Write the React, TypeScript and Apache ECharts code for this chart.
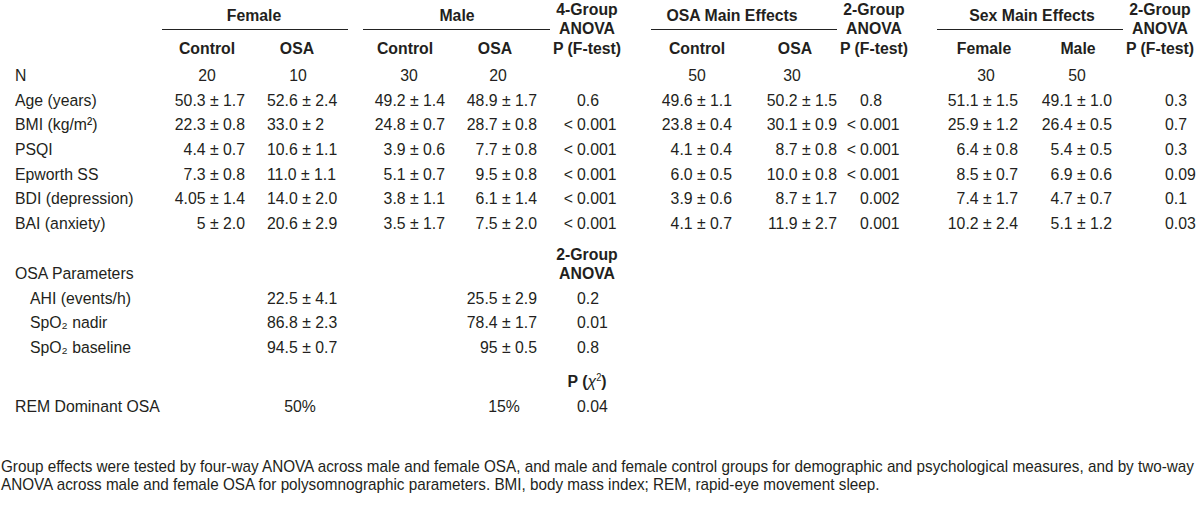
import { useEffect, useRef } from 'react';
import * as echarts from 'echarts';

// ---------- data ----------
const rowLabels = ['N', 'Age (years)', 'BMI (kg/m²)', 'PSQI', 'Epworth SS', 'BDI (depression)', 'BAI (anxiety)'];
const femaleControl = ['20', '50.3 ± 1.7', '22.3 ± 0.8', '4.4 ± 0.7', '7.3 ± 0.8', '4.05 ± 1.4', '5 ± 2.0'];
const femaleOSA = ['10', '52.6 ± 2.4', '33.0 ± 2', '10.6 ± 1.1', '11.0 ± 1.1', '14.0 ± 2.0', '20.6 ± 2.9'];
const maleControl = ['30', '49.2 ± 1.4', '24.8 ± 0.7', '3.9 ± 0.6', '5.1 ± 0.7', '3.8 ± 1.1', '3.5 ± 1.7'];
const maleOSA = ['20', '48.9 ± 1.7', '28.7 ± 0.8', '7.7 ± 0.8', '9.5 ± 0.8', '6.1 ± 1.4', '7.5 ± 2.0'];
const p4Group = ['', '0.6', '< 0.001', '< 0.001', '< 0.001', '< 0.001', '< 0.001'];
const osaMainControl = ['50', '49.6 ± 1.1', '23.8 ± 0.4', '4.1 ± 0.4', '6.0 ± 0.5', '3.9 ± 0.6', '4.1 ± 0.7'];
const osaMainOSA = ['30', '50.2 ± 1.5', '30.1 ± 0.9', '8.7 ± 0.8', '10.0 ± 0.8', '8.7 ± 1.7', '11.9 ± 2.7'];
const pOsaMain = ['', '0.8', '< 0.001', '< 0.001', '< 0.001', '0.002', '0.001'];
const sexFemale = ['30', '51.1 ± 1.5', '25.9 ± 1.2', '6.4 ± 0.8', '8.5 ± 0.7', '7.4 ± 1.7', '10.2 ± 2.4'];
const sexMale = ['50', '49.1 ± 1.0', '26.4 ± 0.5', '5.4 ± 0.5', '6.9 ± 0.6', '4.7 ± 0.7', '5.1 ± 1.2'];
const pSexMain = ['', '0.3', '0.7', '0.3', '0.09', '0.1', '0.03'];

const osaParamLabels = ['AHI (events/h)', 'SpO₂ nadir', 'SpO₂ baseline'];
const femaleOSAParams = ['22.5 ± 4.1', '86.8 ± 2.3', '94.5 ± 0.7'];
const maleOSAParams = ['25.5 ± 2.9', '78.4 ± 1.7', '95 ± 0.5'];
const pOsaParams = ['0.2', '0.01', '0.8'];

const remLabel = 'REM Dominant OSA';
const remFemale = '50%';
const remMale = '15%';
const pRem = '0.04';

const footnote = [
  'Group effects were tested by four-way ANOVA across male and female OSA, and male and female control groups for demographic and psychological measures, and by two-way',
  'ANOVA across male and female OSA for polysomnographic parameters. BMI, body mass index; REM, rapid-eye movement sleep.',
];

const FONT = "'Liberation Sans', Arial, sans-serif";
const COLOR = '#231f20';

export default function App() {
  const ref = useRef<HTMLDivElement>(null);
  useEffect(() => {
    const chart = echarts.init(ref.current!, null, { renderer: 'svg' });
    const els: any[] = [];
    const SIZE = 17;
    const SX = 0.93;
    const txt = (text: string, x: number, y: number, align = 'left', bold = false, size = SIZE, sx = SX) => {
      if (!text) return;
      els.push({
        type: 'text',
        x,
        y,
        scaleX: sx,
        silent: true,
        style: {
          text,
          fill: COLOR,
          font: `${bold ? 'bold ' : ''}${size}px ${FONT}`,
          align,
          verticalAlign: 'middle',
          textAlign: align,
          textVerticalAlign: 'middle',
        },
      });
    };
    const pval = (text: string, x: number, y: number) => {
      if (!text) return;
      if (text.startsWith('< ')) {
        txt('<', x - 4, y, 'right');
        txt(text.slice(2), x, y, 'left');
      } else txt(text, x, y, 'left');
    };
    const hline = (x1: number, x2: number, y: number) =>
      els.push({ type: 'line', silent: true, shape: { x1, y1: y, x2, y2: y }, style: { stroke: '#222', lineWidth: 1.2 } });

    // headers
    const yTop = 9, yMid = 28, yBot = 48, yGroup = 15, yLine = 29.5;
    txt('Female', 254, yGroup, 'center', true);
    hline(162, 348, yLine);
    txt('Male', 457, yGroup, 'center', true);
    hline(363, 550, yLine);
    const stack = (x: number, lines: string[]) => {
      txt(lines[0], x, yTop, 'center', true);
      txt(lines[1], x, yMid, 'center', true);
      if (lines[2]) txt(lines[2], x, yBot, 'center', true);
    };
    stack(587, ['4-Group', 'ANOVA', 'P (F-test)']);
    txt('OSA Main Effects', 732, yGroup, 'center', true);
    hline(651, 837, yLine);
    stack(874, ['2-Group', 'ANOVA', 'P (F-test)']);
    txt('Sex Main Effects', 1032, yGroup, 'center', true);
    hline(937, 1123, yLine);
    stack(1160, ['2-Group', 'ANOVA', 'P (F-test)']);

    const subs: [string, number][] = [
      ['Control', 207], ['OSA', 297], ['Control', 405], ['OSA', 495],
      ['Control', 697], ['OSA', 795], ['Female', 984], ['Male', 1078],
    ];
    subs.forEach(([t, x]) => txt(t, x, yBot, 'center', true));

    // body rows
    const y0 = 75, dy = 24.6;
    rowLabels.forEach((lab, i) => {
      const y = y0 + i * dy;
      txt(lab, 15, y);
      if (i === 0) {
        txt(femaleControl[i], 207, y, 'center');
        txt(femaleOSA[i], 298, y, 'center');
        txt(maleControl[i], 409, y, 'center');
        txt(maleOSA[i], 498, y, 'center');
        txt(osaMainControl[i], 697, y, 'center');
        txt(osaMainOSA[i], 792, y, 'center');
        txt(sexFemale[i], 986, y, 'center');
        txt(sexMale[i], 1077, y, 'center');
      } else {
        txt(femaleControl[i], 245, y, 'right');
        txt(femaleOSA[i], 267, y, 'left');
        txt(maleControl[i], 445, y, 'right');
        txt(maleOSA[i], 537, y, 'right');
        txt(osaMainControl[i], 732, y, 'right');
        txt(osaMainOSA[i], 837, y, 'right');
        txt(sexFemale[i], 1018, y, 'right');
        txt(sexMale[i], 1112, y, 'right');
      }
      pval(p4Group[i], 577, y);
      pval(pOsaMain[i], 860, y);
      pval(pSexMain[i], 1165, y);
    });

    // OSA parameters
    txt('2-Group', 587, 253.5, 'center', true);
    txt('ANOVA', 587, 272.5, 'center', true);
    txt('OSA Parameters', 15, 273);
    osaParamLabels.forEach((lab, i) => {
      const y = 297.5 + i * 24.5;
      txt(lab, 30, y);
      txt(femaleOSAParams[i], 267, y, 'left');
      txt(maleOSAParams[i], 537, y, 'right');
      pval(pOsaParams[i], 577, y);
    });

    // REM
    els.push({
      type: 'text', x: 587, y: 381, scaleX: SX, silent: true,
      style: {
        text: '{b|P (}{i|χ}{s|2}{b|)}',
        fill: COLOR,
        align: 'center', verticalAlign: 'middle', textAlign: 'center', textVerticalAlign: 'middle',
        rich: {
          b: { font: `bold ${SIZE}px ${FONT}`, fill: COLOR },
          i: { font: `italic ${SIZE}px ${FONT}`, fill: COLOR },
          s: { font: `10px ${FONT}`, fill: COLOR, verticalAlign: 'top', padding: [0, 0, 6, 0] },
        },
      },
    });
    txt(remLabel, 15, 405.5);
    txt(remFemale, 300, 405.5, 'center');
    txt(remMale, 504, 405.5, 'center');
    pval(pRem, 577, 405.5);

    // footnote
    footnote.forEach((line, i) => txt(line, 1, 466 + i * 18, 'left', false, 16, 0.955));

    chart.setOption({ animation: false, graphic: { elements: els } });
    return () => chart.dispose();
  }, []);
  return <div ref={ref} style={{ position: 'fixed', left: 0, top: 0, width: 1200, height: 524, background: '#fff' }} />;
}
